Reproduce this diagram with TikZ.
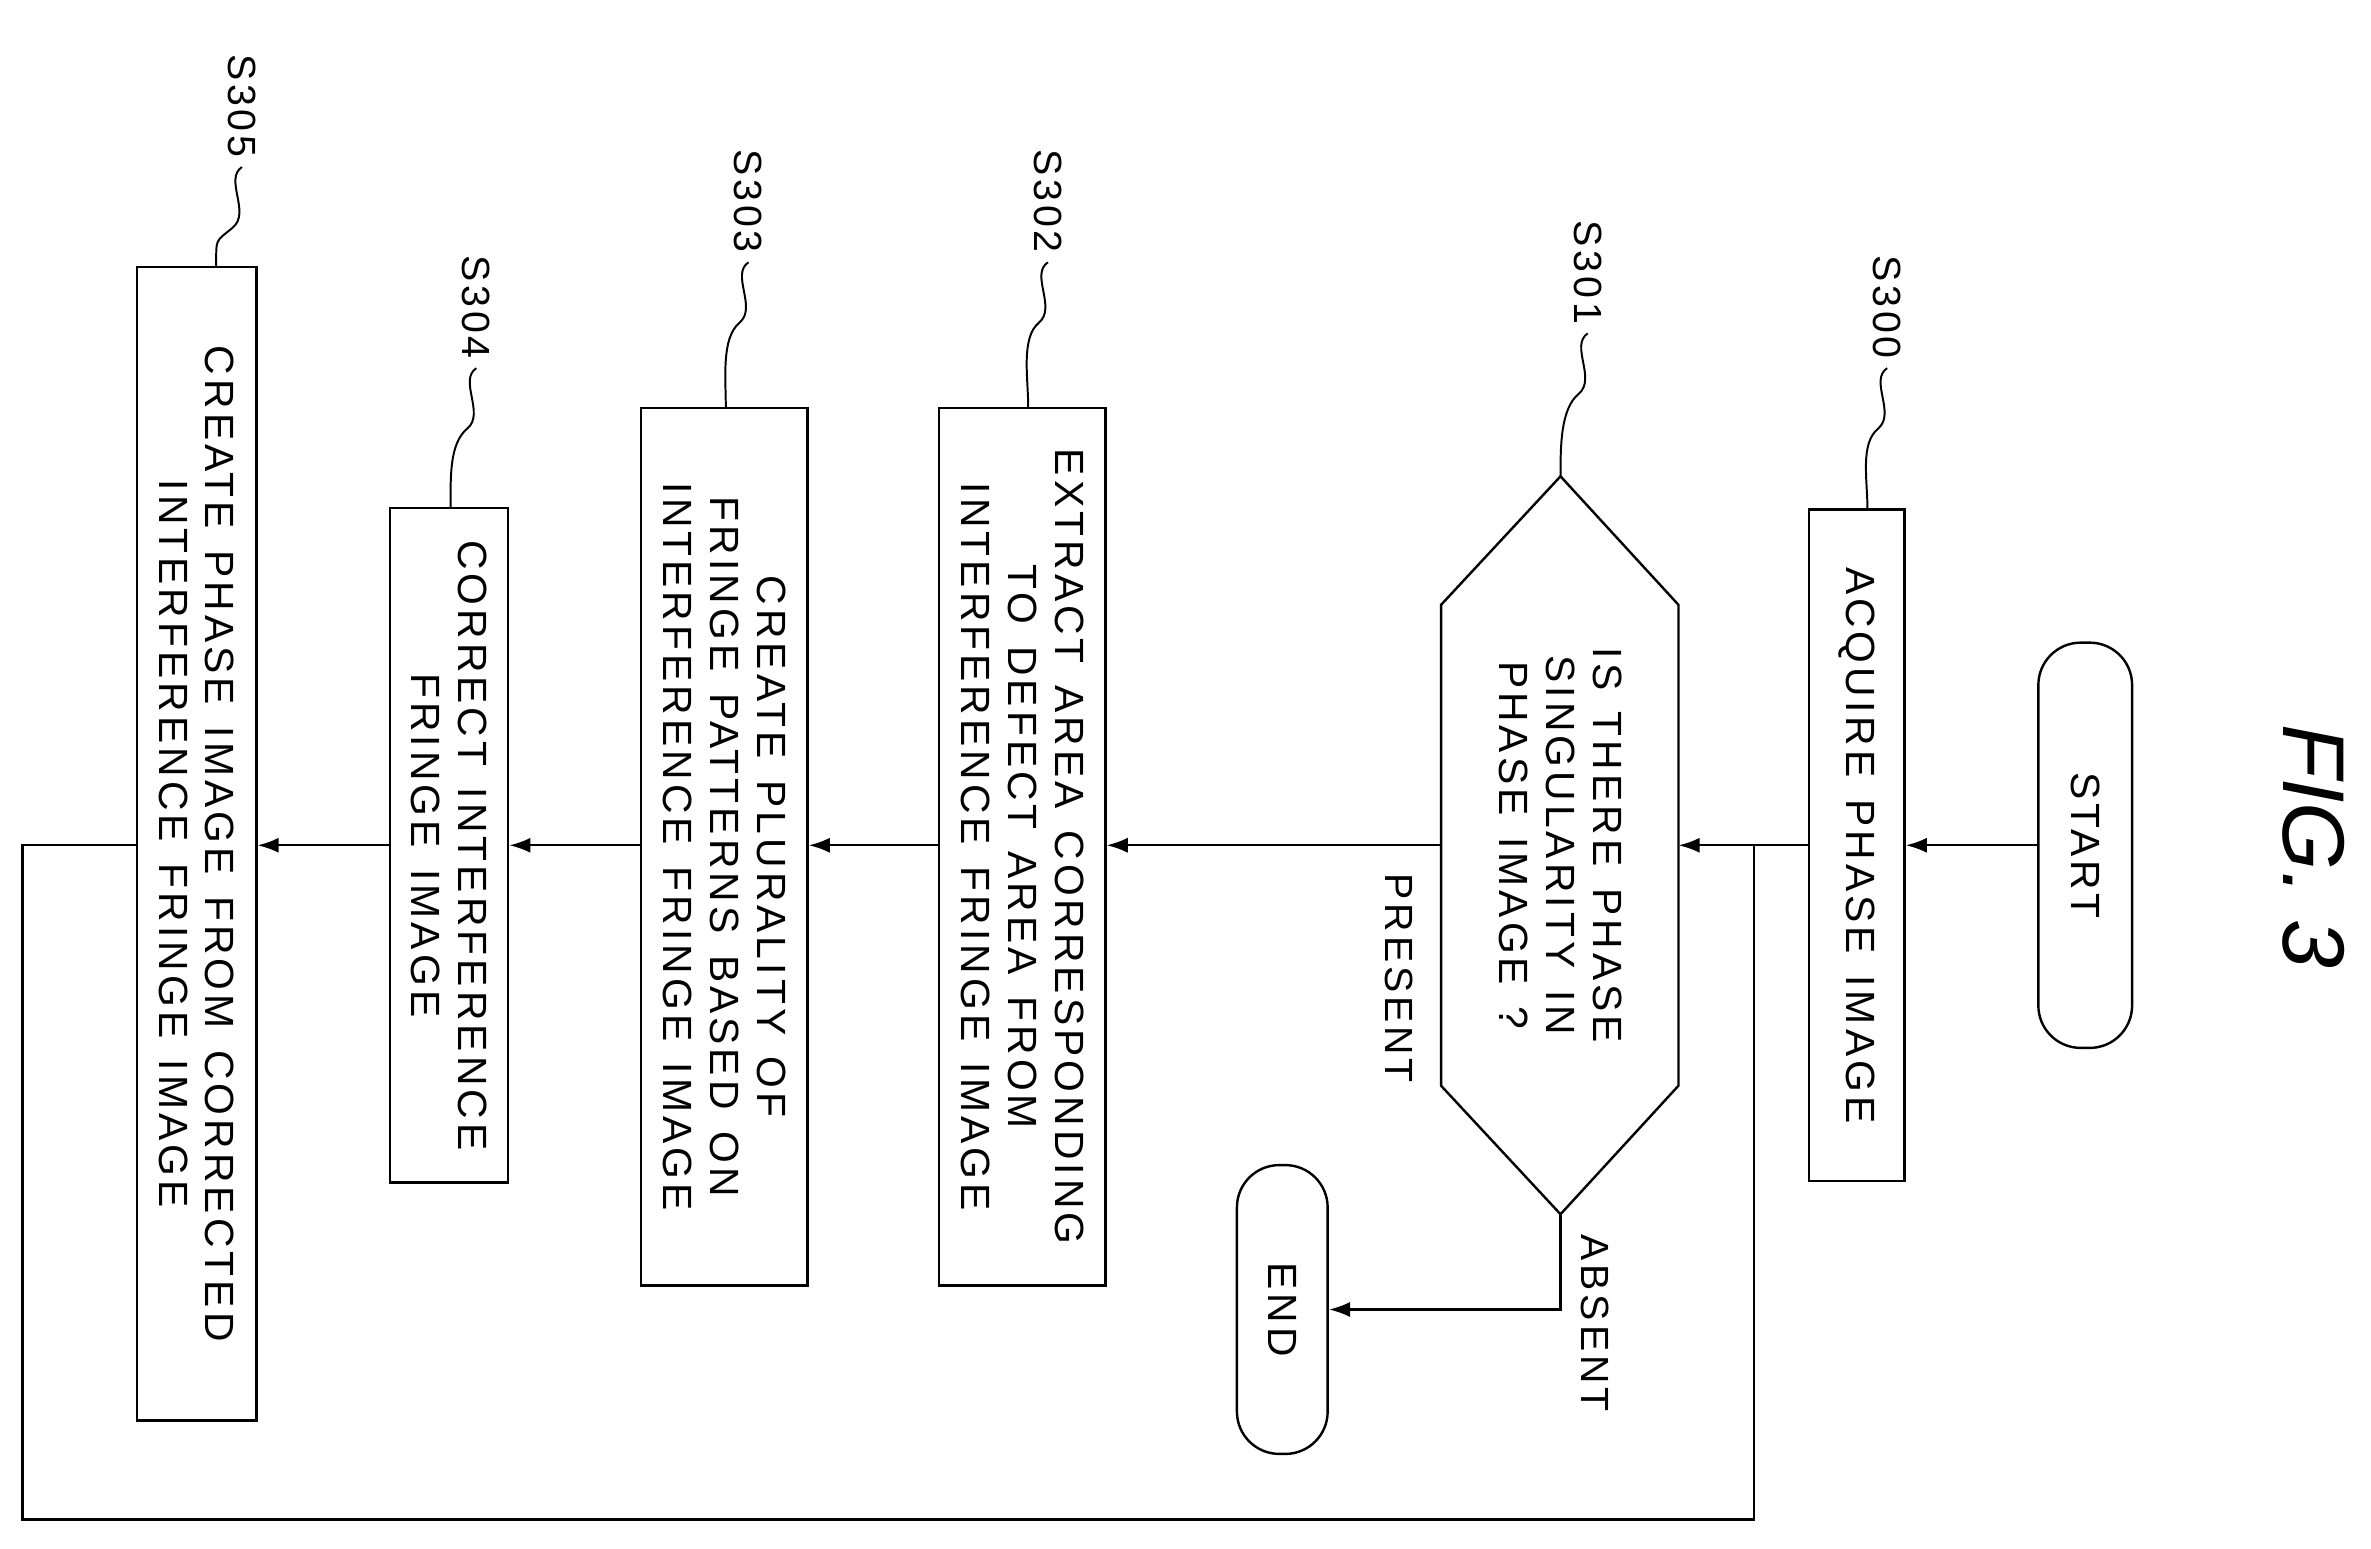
\documentclass[tikz,border=0pt]{standalone}
\usepackage{fontspec}
\setmainfont{Liberation Sans}
\newfontfamily\boxfont[LetterSpace=10,WordSpace=1.4]{Liberation Sans}
\usetikzlibrary{arrows.meta}
\begin{document}
\begin{tikzpicture}[x=1pt,y=1pt,
  box/.style={draw,line width=1.6pt,rotate=-90,inner sep=0pt,align=center,font=\boxfont\fontsize{27}{31}\selectfont},
  term/.style={box,rounded corners=28pt},
  lab/.style={rotate=-90,inner sep=0pt,font=\boxfont\fontsize{26}{30}\selectfont},
  arr/.style={line width=1.6pt,-{Latex[length=14pt,width=10pt]}},
  ln/.style={line width=1.6pt},
  sq/.style={line width=1.3pt}]
\useasboundingbox (0,0) rectangle (1568,-1024);
\node[term,minimum width=268pt,minimum height=62pt] (st) at (1379,-559) {START};
\node[box,minimum width=444pt,minimum height=63pt] (b300) at (1228,-559) {ACQUIRE PHASE IMAGE};
\draw[line width=1.6pt] (1032,-315) -- (1110,-400) -- (1110,-718) -- (1032,-803) -- (953,-718) -- (953,-400) -- cycle;
\coordinate (dr) at (1110,-559); \coordinate (dl) at (953,-559); \coordinate (db) at (1032,-803); \coordinate (dt) at (1032,-315);
\node[rotate=-90,align=center,font=\boxfont\fontsize{27}{31}\selectfont] (dtext) at (1032,-559) {IS THERE PHASE\\SINGULARITY IN\\PHASE IMAGE ?};
\node[term,minimum width=191pt,minimum height=60pt] (end) at (848,-866) {END};
\node[box,minimum width=580pt,minimum height=110pt] (b302) at (676,-560) {EXTRACT AREA CORRESPONDING\\TO DEFECT AREA FROM\\INTERFERENCE FRINGE IMAGE};
\node[box,minimum width=580pt,minimum height=110pt] (b303) at (479,-560) {CREATE PLURALITY OF\\FRINGE PATTERNS BASED ON\\INTERFERENCE FRINGE IMAGE};
\node[box,minimum width=446pt,minimum height=78pt] (b304) at (297,-559) {CORRECT INTERFERENCE\\FRINGE IMAGE};
\node[box,minimum width=763pt,minimum height=79pt] (b305) at (130,-558) {CREATE PHASE IMAGE FROM CORRECTED\\INTERFERENCE FRINGE IMAGE};
\draw[arr] (st.south) -- (b300.north);
\draw[arr] (b300.south) -- (dr);
\draw[arr] (dl) -- (b302.north |- dl);
\draw[arr] (b302.south |- dl) -- (b303.north |- dl);
\draw[arr] (b303.south |- dl) -- (b304.north |- dl);
\draw[arr] (b304.south |- dl) -- (b305.north |- dl);
\coordinate (j) at (1160,-559);
\draw[ln] (b305.south |- dl) -- (15,-559) -- (15,-1005) -- (1160,-1005) -- (j);
\draw[arr] (db) -- (1032,-866) -- (end.north);
\node[lab] (pr) at (925,-647) {PRESENT};
\node[lab] (ab) at (1055,-875) {ABSENT};
\node[rotate=-90,inner sep=0pt,font=\itshape\fontsize{58}{60}\selectfont] (fig) at (1530,-560) {FIG. 3};
\node[lab] (l300) at (1248,-203) {S300};
\node[lab] (l301) at (1050,-180) {S301};
\node[lab] (l302) at (693,-133) {S302};
\node[lab] (l303) at (495,-133) {S303};
\node[lab] (l304) at (315,-203) {S304};
\node[lab] (l305) at (160,-70) {S305};
\draw[sq] (l300.east) ++(0,-6) .. controls +(-12,-8) and +(12,10) .. ++(-6,-40) .. controls +(-12,-10) and +(0,20) .. (1235,-337);
\draw[sq] (l301.east) ++(0,-6) .. controls +(-12,-8) and +(12,10) .. ++(-6,-40) .. controls +(-12,-10) and +(0,20) .. (dt);
\draw[sq] (l302.east) ++(0,-6) .. controls +(-12,-8) and +(12,10) .. ++(-6,-40) .. controls +(-12,-10) and +(0,20) .. (680,-270);
\draw[sq] (l303.east) ++(0,-6) .. controls +(-12,-8) and +(12,10) .. ++(-6,-40) .. controls +(-12,-10) and +(0,20) .. (480,-270);
\draw[sq] (l304.east) ++(0,-6) .. controls +(-12,-8) and +(12,10) .. ++(-6,-40) .. controls +(-12,-10) and +(0,20) .. (298,-336);
\draw[sq] (l305.east) ++(0,-6) .. controls +(-12,-8) and +(12,10) .. ++(-6,-40) .. controls +(-12,-10) and +(0,20) .. (143,-177);
\end{tikzpicture}
\end{document}
